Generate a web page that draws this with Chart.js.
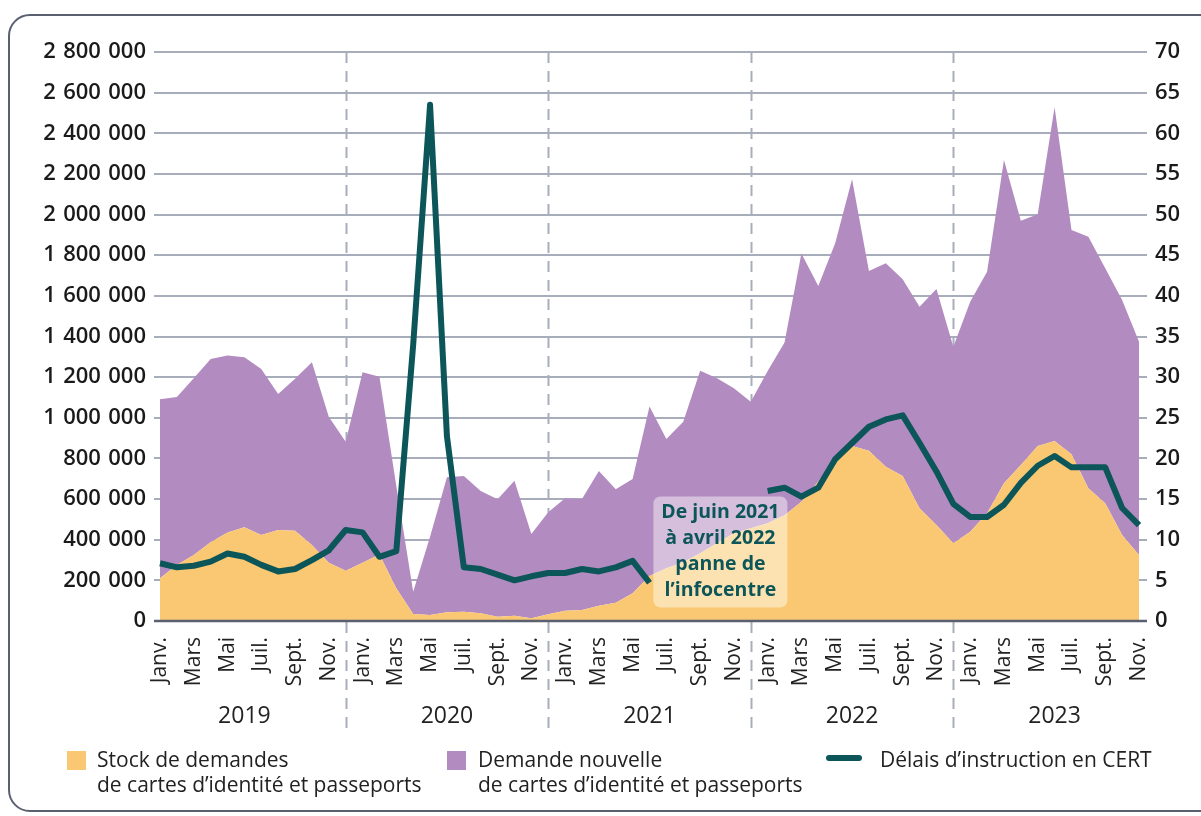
<!DOCTYPE html>
<html lang="fr">
<head>
<meta charset="utf-8">
<title>Demandes de titres et délais d'instruction</title>
<script src="https://cdn.jsdelivr.net/npm/chart.js@4.4.1/dist/chart.umd.min.js"></script>
<style>
  html, body { margin: 0; padding: 0; background: #fff; }
  #wrap { position: relative; width: 1201px; height: 816px; overflow: hidden; font-family: "Open Sans", sans-serif; }
  #frame { position: absolute; left: 8px; top: 14px; width: 1240px; height: 798px; border: 2.5px solid #5a6070;
           border-radius: 22px; box-sizing: border-box; pointer-events: none; }
  #chart { position: absolute; left: 0; top: 0; }
  .leg { position: absolute; top: 747px; font-size: 21px; line-height: 25px; color: #222; font-weight: 400; white-space: nowrap; }
  .sw { position: absolute; width: 19px; height: 19px; top: 751px; }
</style>
</head>
<body>
<div id="wrap">
  <canvas id="chart" width="1201" height="816"></canvas>
  <div id="frame"></div>
  <div class="sw" style="left:67px;background:#fac872"></div>
  <div class="leg" style="left:97px">Stock de demandes<br>de cartes d’identité et passeports</div>
  <div class="sw" style="left:447px;background:#b28bc0"></div>
  <div class="leg" style="left:478px">Demande nouvelle<br>de cartes d’identité et passeports</div>
  <div style="position:absolute;left:826px;top:755px;width:36px;height:6px;border-radius:3px;background:#0c5559"></div>
  <div class="leg" style="left:880px">Délais d’instruction en CERT</div>
</div>
<script>
// janv. 2019 -> nov. 2023
var years = ['2019', '2020', '2021', '2022', '2023'];
var monthNames = ['Janv.', 'Févr.', 'Mars', 'Avr.', 'Mai', 'Juin', 'Juil.', 'Août', 'Sept.', 'Oct.', 'Nov.', 'Déc.'];
var nbMonths = 59;

var stock = [
    210000, 276000, 325000, 387000, 436000, 461000, 423000, 448000, 444000, 374000, 287000, 247000,
    287000, 327000, 161000, 34000, 30000, 43000, 46000, 38000, 21000, 26000, 13000, 33000,
    51000, 54000, 75000, 90000, 136000, 221000, 259000, 289000, 333000, 382000, 432000, 456000,
    481000, 520000, 587000, 686000, 792000, 861000, 838000, 759000, 714000, 555000, 472000, 382000,
    439000, 530000, 678000, 768000, 861000, 886000, 820000, 653000, 579000, 423000, 325000
];
var demandeNouvelle = [
    881000, 826000, 869000, 902000, 871000, 837000, 817000, 669000, 748000, 899000, 718000, 635000,
    937000, 875000, 503000, 110000, 385000, 664000, 668000, 602000, 578000, 664000, 415000, 502000,
    553000, 546000, 663000, 558000, 563000, 834000, 637000, 692000, 899000, 812000, 713000, 623000,
    749000, 850000, 1222000, 963000, 1067000, 1313000, 884000, 1001000, 968000, 992000, 1162000, 968000,
    1132000, 1189000, 1591000, 1202000, 1140000, 1642000, 1104000, 1238000, 1157000, 1157000, 1049000
];
// délais en jours (panne de l'infocentre de juin 2021 à avril 2022)
var delais = [
    7.1, 6.6, 6.8, 7.3, 8.3, 7.9, 6.9, 6.1, 6.4, 7.5, 8.7, 11.2,
    10.9, 7.9, 8.6, 34, 63.5, 22.7, 6.6, 6.4, 5.7, 5.0, 5.5, 5.9,
    5.9, 6.4, 6.1, 6.6, 7.4, 4.7, null, null, null, null, null, null,
    16.0, 16.4, 15.3, 16.4, 19.9, 21.9, 23.9, 24.8, 25.3, 21.9, 18.4, 14.4,
    12.8, 12.8, 14.3, 17.0, 19.1, 20.3, 18.9, 18.9, 18.9, 13.9, 11.8
];
var annotationLines = ['De juin 2021', 'à avril 2022', 'panne de', 'l’infocentre'];

var categories = [];
for (var i = 0; i < nbMonths; i++) {
    categories.push(monthNames[i % 12] + ' ' + years[Math.floor(i / 12)]);
}

var gridColor = '#a7adba';
var tealColor = '#0c5559';
var tickFont = { family: 'Open Sans', size: 22, weight: '600' };

function fmt(v) {
    return String(v).replace(/\B(?=(\d{3})+(?!\d))/g, '\u2004');
}

var decorations = {
    id: 'decorations',
    beforeDatasetsDraw: function (chart) {
        var ctx = chart.ctx, x = chart.scales.x, area = chart.chartArea;
        ctx.save();
        ctx.strokeStyle = gridColor;
        ctx.lineWidth = 2;
        ctx.setLineDash([11, 8]);
        for (var k = 1; k < years.length; k++) {
            var px = Math.round(x.getPixelForValue(12 * k - 1)) + 0.5;
            ctx.beginPath();
            ctx.moveTo(px, area.top);
            ctx.lineTo(px, 736);
            ctx.stroke();
        }
        ctx.restore();
    },
    afterDatasetsDraw: function (chart) {
        var ctx = chart.ctx, x = chart.scales.x, y = chart.scales.y, y1 = chart.scales.y1, area = chart.chartArea;
        ctx.save();
        // axe zéro
        var y0 = y.getPixelForValue(0);
        ctx.strokeStyle = '#5a6070';
        ctx.lineWidth = 2.5;
        ctx.beginPath();
        ctx.moveTo(area.left - 6, y0);
        ctx.lineTo(area.right + 8, y0);
        ctx.stroke();

        // années
        ctx.fillStyle = '#222';
        ctx.font = '400 23px "Open Sans"';
        ctx.textAlign = 'center';
        ctx.textBaseline = 'middle';
        years.forEach(function (yr, k) {
            ctx.fillText(yr, x.getPixelForValue(12 * k + 5), 716);
        });

        // encadré panne
        var cx = x.getPixelForValue(33.2), cy = y1.getPixelForValue(8.5);
        var w = 134, h = 111;
        ctx.fillStyle = 'rgba(255,255,255,0.45)';
        ctx.beginPath();
        ctx.roundRect(cx - w / 2, cy - h / 2, w, h, 7);
        ctx.fill();
        ctx.fillStyle = tealColor;
        ctx.font = '700 19.5px "Open Sans"';
        annotationLines.forEach(function (t, k) {
            ctx.fillText(t, cx, cy - 39 + k * 26);
        });
        ctx.restore();
    }
};

var chart = new Chart(document.getElementById('chart'), {
    type: 'line',
    data: {
        labels: categories,
        datasets: [
            {
                label: 'Stock de demandes de cartes d’identité et passeports',
                data: stock,
                yAxisID: 'y',
                backgroundColor: '#fac872',
                borderWidth: 0,
                pointRadius: 0,
                fill: 'origin',
                order: 1
            },
            {
                label: 'Demande nouvelle de cartes d’identité et passeports',
                data: demandeNouvelle,
                yAxisID: 'y',
                backgroundColor: '#b28bc0',
                borderWidth: 0,
                pointRadius: 0,
                fill: '-1',
                order: 2
            },
            {
                label: 'Délais d’instruction en CERT',
                data: delais,
                yAxisID: 'y1',
                borderColor: tealColor,
                borderWidth: 6,
                borderJoinStyle: 'round',
                pointRadius: 0,
                fill: false,
                spanGaps: false,
                order: 0
            }
        ]
    },
    options: {
        responsive: false,
        animation: false,
        layout: { padding: { left: 8, right: 7, top: 52, bottom: 0 } },
        plugins: { legend: { display: false }, tooltip: { enabled: false } },
        scales: {
            x: {
                offset: false,
                afterFit: function (s) { s.height = 195; },
                grid: { display: false, drawTicks: false },
                border: { display: false },
                ticks: {
                    autoSkip: false,
                    maxRotation: 90,
                    minRotation: 90,
                    padding: 16,
                    color: '#222',
                    font: { family: 'Open Sans', size: 21, weight: '400' },
                    callback: function (v, i) { return i % 2 === 0 ? monthNames[i % 12] : ''; }
                }
            },
            y: {
                position: 'left',
                stacked: true,
                min: 0,
                max: 2800000,
                afterFit: function (s) { s.width = 152; },
                grid: { color: gridColor, lineWidth: 2, tickLength: 6 },
                border: { display: false },
                ticks: { stepSize: 200000, padding: 8, color: '#1a1a1a', font: tickFont, callback: fmt }
            },
            y1: {
                position: 'right',
                min: 0,
                max: 70,
                afterFit: function (s) { s.width = 55; },
                grid: { drawOnChartArea: false, color: gridColor, lineWidth: 2, tickLength: 8 },
                border: { display: false },
                ticks: { stepSize: 5, padding: 8, color: '#1a1a1a', font: tickFont }
            }
        }
    },
    plugins: [decorations]
});
</script>
</body>
</html>
